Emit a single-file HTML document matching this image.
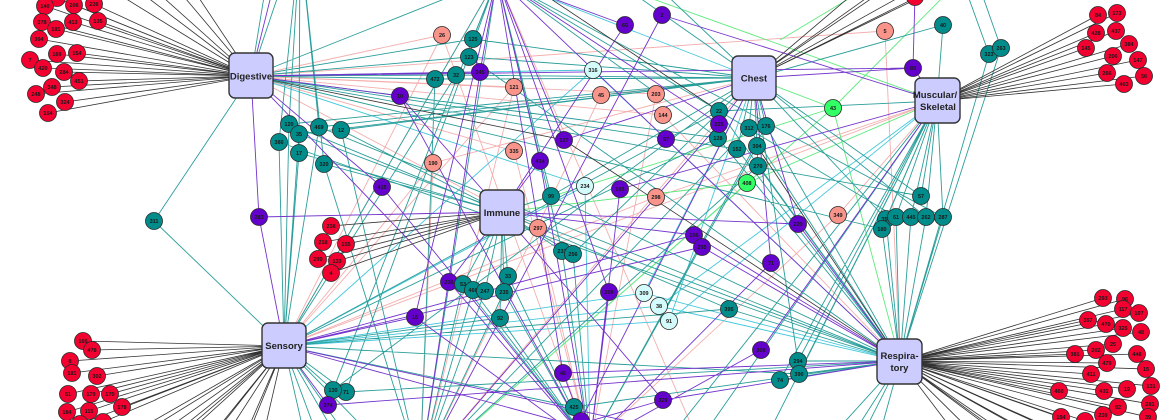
<!DOCTYPE html>
<html><head><meta charset="utf-8"><style>
html,body{margin:0;padding:0;background:#fff;width:1170px;height:420px;overflow:hidden;}
svg{display:block;overflow:hidden;}
.n text,.lb{font-family:"Liberation Sans",sans-serif;font-weight:bold;}
.n text{font-size:5.5px;fill:#1a1a1a;text-anchor:middle;}
.n circle{stroke:#2a2a2a;stroke-width:0.8;}
.r circle{fill:#f20030;}
.t circle{fill:#008c8a;}
.p circle{fill:#6400cc;}
.s circle{fill:#f8948a;}
.c circle{fill:#d4fbfb;}
.g circle{fill:#33ff66;}
.box{fill:#ccccff;stroke:#333;stroke-width:1.4;}
.lb{font-size:9.5px;fill:#222;text-anchor:middle;}
</style></head><body>
<svg width="1170" height="420" viewBox="0 0 1170 420" xmlns="http://www.w3.org/2000/svg">
<defs><clipPath id="cp"><rect width="1170" height="420"/></clipPath></defs>
<g clip-path="url(#cp)">
<rect width="1170" height="420" fill="#fff"/>
<g fill="none" stroke-width="0.9">
<path stroke="#f4aeae" d="M442 35L251 76M442 35L590 445M442 35L284 346M514 87L251 76M514 87L420 470M514 87L284 346M514 151L251 76M514 151L590 445M433 163L754 78M433 163L420 470M433 163L284 346M601 95L754 78M601 95L420 470M656 94L251 76M656 94L590 445M663 115L251 76M663 115L900 361M656 197L937 101M656 197L284 346M538 228L251 76M538 228L590 445M838 215L937 101M838 215L590 445M885 31L251 76M885 31L900 361M497 -22L284 346M497 -22L700 445M754 78L420 470M937 101L284 346"/>
<path stroke="#5eea7e" d="M833 108L754 78M833 108L900 361M833 108L502 212M833 108L420 470M833 108L960 -20M747 183L502 212M747 183L937 101M747 183L420 470M880 -20L780 40M937 101L600 -20"/>
<path stroke="#44c8dc" d="M593 70L251 76M593 70L900 361M593 70L284 346M585 186L251 76M585 186L590 445M585 186L284 346M644 293L284 346M644 293L754 78M644 293L900 361M659 306L284 346M659 306L937 101M659 306L900 361M669 321L284 346M669 321L937 101M669 321L754 78M497 -22L754 78"/>
<path stroke="#2a9e9a" d="M289 124L300 -60M289 124L284 346M289 124L754 78M289 124L502 212M299 134L300 -60M299 134L284 346M299 134L754 78M299 134L900 361M319 127L300 -60M319 127L754 78M319 127L284 346M319 127L900 361M341 130L754 78M341 130L420 470M341 130L502 212M279 142L284 346M279 142L900 361M279 142L300 -60M299 153L284 346M299 153L300 -60M299 153L502 212M324 164L420 470M324 164L502 212M324 164L300 -60M473 39L251 76M473 39L754 78M473 39L497 -22M469 57L251 76M469 57L754 78M469 57L900 361M435 79L251 76M435 79L420 470M435 79L754 78M456 75L251 76M456 75L754 78M456 75L284 346M154 221L251 76M154 221L284 346M719 111L497 -22M719 111L937 101M719 111L900 361M719 111L284 346M718 138L497 -22M718 138L900 361M718 138L284 346M718 138L251 76M749 128L754 78M749 128L900 361M749 128L420 470M766 126L754 78M766 126L900 361M766 126L590 445M737 149L754 78M737 149L900 361M737 149L251 76M757 146L754 78M757 146L590 445M758 166L754 78M758 166L900 361M758 166L420 470M551 196L502 212M551 196L497 -22M551 196L900 361M551 196L754 78M562 251L502 212M562 251L590 445M562 251L497 -22M573 254L502 212M573 254L590 445M573 254L754 78M463 284L502 212M463 284L590 445M463 284L420 470M473 290L502 212M473 290L420 470M473 290L590 445M485 291L502 212M485 291L420 470M508 276L502 212M508 276L590 445M504 292L502 212M504 292L420 470M504 292L590 445M500 318L502 212M500 318L590 445M500 318L284 346M729 309L284 346M729 309L900 361M729 309L502 212M921 196L937 101M921 196L754 78M921 196L251 76M886 219L900 361M886 219L937 101M886 219L754 78M896 217L900 361M896 217L937 101M896 217L497 -22M911 217L900 361M911 217L937 101M926 217L900 361M926 217L937 101M926 217L754 78M943 217L900 361M943 217L937 101M943 217L497 -22M882 229L900 361M882 229L937 101M882 229L251 76M989 54L955 -40M989 54L900 361M1001 48L970 -40M1001 48L900 361M943 25L937 101M943 25L754 78M798 361L900 361M798 361L754 78M798 361L937 101M799 374L900 361M799 374L937 101M799 374L284 346M780 380L900 361M780 380L937 101M574 407L590 445M574 407L284 346M574 407L900 361M333 390L284 346M333 390L497 -22M333 390L754 78M346 392L284 346M346 392L900 361M346 392L497 -22M284 346L310 460M284 346L330 470M284 346L350 460M284 346L370 470M284 346L400 465M900 361L850 460M900 361L830 470M900 361L810 460M900 361L870 470M497 -22L251 76M497 -22L284 346M497 -22L420 470M937 101L700 440M937 101L760 450M937 101L660 450M251 76L290 -40M251 76L270 -40M754 78L640 -30M754 78L600 -30"/>
<path stroke="#7433cc" d="M382 187L251 76M382 187L590 445M259 217L502 212M259 217L284 346M259 217L251 76M400 96L251 76M400 96L590 445M400 96L502 212M480 72L497 -22M480 72L420 470M480 72L251 76M625 25L502 212M625 25L497 -22M662 15L937 101M662 15L420 470M564 140L754 78M564 140L497 -22M540 161L497 -22M540 161L590 445M540 161L502 212M666 139L497 -22M666 139L900 361M620 189L937 101M620 189L590 445M719 124L497 -22M719 124L754 78M719 124L420 470M913 68L754 78M913 68L937 101M913 68L251 76M913 68L915 -5M798 224L502 212M798 224L900 361M798 224L754 78M694 235L284 346M694 235L502 212M694 235L900 361M702 247L284 346M702 247L900 361M771 263L754 78M771 263L590 445M449 282L502 212M449 282L590 445M449 282L251 76M415 317L284 346M415 317L497 -22M415 317L590 445M609 292L497 -22M609 292L590 445M563 373L900 361M563 373L497 -22M563 373L590 445M663 400L502 212M663 400L900 361M663 400L420 470M761 350L937 101M761 350L590 445M328 405L284 346M328 405L900 361M581 420L590 445M581 420L754 78M284 346L760 450M284 346L700 460M251 76L280 -40"/>
<path stroke="#333" stroke-width="0.8" d="M45 6L251 76M74 5L251 76M94 4L251 76M57 -2L251 76M42 22L251 76M73 22L251 76M98 21L251 76M56 29L251 76M39 39L251 76M57 54L251 76M77 53L251 76M30 60L251 76M43 68L251 76M64 72L251 76M79 81L251 76M52 87L251 76M36 94L251 76M65 102L251 76M48 113L251 76M115 -8L251 76M135 -12L251 76M155 -10L251 76M175 -14L251 76M195 -8L251 76M1098 15L937 101M1117 13L937 101M1096 33L937 101M1116 31L937 101M1086 48L937 101M1129 44L937 101M1113 56L937 101M1138 60L937 101M1107 73L937 101M1144 76L937 101M1124 84L937 101M860 -12L754 78M875 -8L754 78M890 -14L754 78M905 -6L754 78M915 -2L754 78M935 -10L754 78M331 226L502 212M323 242L502 212M346 244L502 212M318 259L502 212M337 261L502 212M331 273L502 212M83 341L284 346M92 350L284 346M70 361L284 346M72 373L284 346M97 376L284 346M68 394L284 346M91 394L284 346M110 394L284 346M122 407L284 346M67 412L284 346M89 411L284 346M103 422L284 346M80 424L284 346M120 440L284 346M140 435L284 346M160 445L284 346M180 440L284 346M200 450L284 346M220 445L284 346M240 455L284 346M260 450L284 346M150 460L284 346M190 465L284 346M230 470L284 346M130 455L284 346M1103 298L900 361M1125 299L900 361M1123 309L900 361M1139 313L900 361M1088 320L900 361M1106 324L900 361M1123 328L900 361M1141 332L900 361M1113 344L900 361M1096 350L900 361M1075 354L900 361M1137 354L900 361M1107 363L900 361M1146 369L900 361M1091 374L900 361M1059 391L900 361M1104 391L900 361M1127 389L900 361M1151 386L900 361M1118 407L900 361M1150 404L900 361M1061 417L900 361M1103 415L900 361M1148 417L900 361M1085 421L900 361M960 440L900 361M985 445L900 361M1010 440L900 361M1030 450L900 361M1050 445L900 361M1075 440L900 361M1100 450L900 361M1125 440L900 361M1000 460L900 361M1040 465L900 361M1080 460L900 361M1140 445L900 361M251 76L564 140M564 140L900 361M757 146L900 361M545 -5L719 111"/>
</g>
<g class="n r">
<circle cx="57" cy="-2" r="8.5"/>
<circle cx="45" cy="6" r="8.5"/><text x="45" y="8">140</text>
<circle cx="74" cy="5" r="8.5"/><text x="74" y="7">206</text>
<circle cx="94" cy="4" r="8.5"/><text x="94" y="6">226</text>
<circle cx="42" cy="22" r="8.5"/><text x="42" y="24">378</text>
<circle cx="73" cy="22" r="8.5"/><text x="73" y="24">413</text>
<circle cx="98" cy="21" r="8.5"/><text x="98" y="23">135</text>
<circle cx="56" cy="29" r="8.5"/><text x="56" y="31">181</text>
<circle cx="39" cy="39" r="8.5"/><text x="39" y="41">394</text>
<circle cx="57" cy="54" r="8.5"/><text x="57" y="56">169</text>
<circle cx="77" cy="53" r="8.5"/><text x="77" y="55">154</text>
<circle cx="30" cy="60" r="8.5"/><text x="30" y="62">7</text>
<circle cx="43" cy="68" r="8.5"/><text x="43" y="70">420</text>
<circle cx="64" cy="72" r="8.5"/><text x="64" y="74">284</text>
<circle cx="79" cy="81" r="8.5"/><text x="79" y="83">451</text>
<circle cx="52" cy="87" r="8.5"/><text x="52" y="89">348</text>
<circle cx="36" cy="94" r="8.5"/><text x="36" y="96">248</text>
<circle cx="65" cy="102" r="8.5"/><text x="65" y="104">324</text>
<circle cx="48" cy="113" r="8.5"/><text x="48" y="115">154</text>
<circle cx="915" cy="-3" r="8.5"/>
<circle cx="1098" cy="15" r="8.5"/><text x="1098" y="17">84</text>
<circle cx="1117" cy="13" r="8.5"/><text x="1117" y="15">173</text>
<circle cx="1096" cy="33" r="8.5"/><text x="1096" y="35">428</text>
<circle cx="1116" cy="31" r="8.5"/><text x="1116" y="33">437</text>
<circle cx="1086" cy="48" r="8.5"/><text x="1086" y="50">145</text>
<circle cx="1129" cy="44" r="8.5"/><text x="1129" y="46">384</text>
<circle cx="1113" cy="56" r="8.5"/><text x="1113" y="58">206</text>
<circle cx="1138" cy="60" r="8.5"/><text x="1138" y="62">147</text>
<circle cx="1107" cy="73" r="8.5"/><text x="1107" y="75">266</text>
<circle cx="1144" cy="76" r="8.5"/><text x="1144" y="78">56</text>
<circle cx="1124" cy="84" r="8.5"/><text x="1124" y="86">463</text>
<circle cx="331" cy="226" r="8.5"/><text x="331" y="228">238</text>
<circle cx="323" cy="242" r="8.5"/><text x="323" y="244">218</text>
<circle cx="346" cy="244" r="8.5"/><text x="346" y="246">155</text>
<circle cx="318" cy="259" r="8.5"/><text x="318" y="261">299</text>
<circle cx="337" cy="261" r="8.5"/><text x="337" y="263">133</text>
<circle cx="331" cy="273" r="8.5"/><text x="331" y="275">4</text>
<circle cx="83" cy="341" r="8.5"/><text x="83" y="343">105</text>
<circle cx="92" cy="350" r="8.5"/><text x="92" y="352">478</text>
<circle cx="70" cy="361" r="8.5"/><text x="70" y="363">8</text>
<circle cx="72" cy="373" r="8.5"/><text x="72" y="375">181</text>
<circle cx="97" cy="376" r="8.5"/><text x="97" y="378">302</text>
<circle cx="68" cy="394" r="8.5"/><text x="68" y="396">51</text>
<circle cx="91" cy="394" r="8.5"/><text x="91" y="396">179</text>
<circle cx="110" cy="394" r="8.5"/><text x="110" y="396">170</text>
<circle cx="122" cy="407" r="8.5"/><text x="122" y="409">178</text>
<circle cx="67" cy="412" r="8.5"/><text x="67" y="414">184</text>
<circle cx="89" cy="411" r="8.5"/><text x="89" y="413">115</text>
<circle cx="103" cy="422" r="8.5"/>
<circle cx="80" cy="424" r="8.5"/>
<circle cx="1103" cy="298" r="8.5"/><text x="1103" y="300">293</text>
<circle cx="1125" cy="299" r="8.5"/><text x="1125" y="301">96</text>
<circle cx="1123" cy="309" r="8.5"/><text x="1123" y="311">117</text>
<circle cx="1139" cy="313" r="8.5"/><text x="1139" y="315">107</text>
<circle cx="1088" cy="320" r="8.5"/><text x="1088" y="322">357</text>
<circle cx="1106" cy="324" r="8.5"/><text x="1106" y="326">470</text>
<circle cx="1123" cy="328" r="8.5"/><text x="1123" y="330">325</text>
<circle cx="1141" cy="332" r="8.5"/><text x="1141" y="334">48</text>
<circle cx="1113" cy="344" r="8.5"/><text x="1113" y="346">25</text>
<circle cx="1096" cy="350" r="8.5"/><text x="1096" y="352">202</text>
<circle cx="1075" cy="354" r="8.5"/><text x="1075" y="356">381</text>
<circle cx="1137" cy="354" r="8.5"/><text x="1137" y="356">448</text>
<circle cx="1107" cy="363" r="8.5"/><text x="1107" y="365">479</text>
<circle cx="1146" cy="369" r="8.5"/><text x="1146" y="371">15</text>
<circle cx="1091" cy="374" r="8.5"/><text x="1091" y="376">411</text>
<circle cx="1059" cy="391" r="8.5"/><text x="1059" y="393">460</text>
<circle cx="1104" cy="391" r="8.5"/><text x="1104" y="393">431</text>
<circle cx="1127" cy="389" r="8.5"/><text x="1127" y="391">19</text>
<circle cx="1151" cy="386" r="8.5"/><text x="1151" y="388">131</text>
<circle cx="1118" cy="407" r="8.5"/><text x="1118" y="409">82</text>
<circle cx="1150" cy="404" r="8.5"/><text x="1150" y="406">281</text>
<circle cx="1085" cy="421" r="8.5"/>
<circle cx="1061" cy="417" r="8.5"/><text x="1061" y="419">194</text>
<circle cx="1103" cy="415" r="8.5"/><text x="1103" y="417">239</text>
<circle cx="1148" cy="417" r="8.5"/><text x="1148" y="419">39</text>
</g>
<g class="n s">
<circle cx="442" cy="35" r="8.5"/><text x="442" y="37">26</text>
<circle cx="514" cy="87" r="8.5"/><text x="514" y="89">121</text>
<circle cx="514" cy="151" r="8.5"/><text x="514" y="153">335</text>
<circle cx="433" cy="163" r="8.5"/><text x="433" y="165">190</text>
<circle cx="601" cy="95" r="8.5"/><text x="601" y="97">45</text>
<circle cx="656" cy="94" r="8.5"/><text x="656" y="96">203</text>
<circle cx="663" cy="115" r="8.5"/><text x="663" y="117">144</text>
<circle cx="656" cy="197" r="8.5"/><text x="656" y="199">298</text>
<circle cx="538" cy="228" r="8.5"/><text x="538" y="230">297</text>
<circle cx="838" cy="215" r="8.5"/><text x="838" y="217">349</text>
<circle cx="885" cy="31" r="8.5"/><text x="885" y="33">5</text>
</g>
<g class="n c">
<circle cx="593" cy="70" r="8.5"/><text x="593" y="72">316</text>
<circle cx="585" cy="186" r="8.5"/><text x="585" y="188">234</text>
<circle cx="644" cy="293" r="8.5"/><text x="644" y="295">309</text>
<circle cx="659" cy="306" r="8.5"/><text x="659" y="308">38</text>
<circle cx="669" cy="321" r="8.5"/><text x="669" y="323">91</text>
</g>
<g class="n g">
<circle cx="833" cy="108" r="8.5"/><text x="833" y="110">43</text>
<circle cx="747" cy="183" r="8.5"/><text x="747" y="185">408</text>
</g>
<g class="n t">
<circle cx="289" cy="124" r="8.5"/><text x="289" y="126">120</text>
<circle cx="279" cy="142" r="8.5"/><text x="279" y="144">386</text>
<circle cx="299" cy="134" r="8.5"/><text x="299" y="136">35</text>
<circle cx="299" cy="153" r="8.5"/><text x="299" y="155">17</text>
<circle cx="319" cy="127" r="8.5"/><text x="319" y="129">469</text>
<circle cx="341" cy="130" r="8.5"/><text x="341" y="132">12</text>
<circle cx="324" cy="164" r="8.5"/><text x="324" y="166">320</text>
<circle cx="473" cy="39" r="8.5"/><text x="473" y="41">125</text>
<circle cx="469" cy="57" r="8.5"/><text x="469" y="59">123</text>
<circle cx="435" cy="79" r="8.5"/><text x="435" y="81">472</text>
<circle cx="456" cy="75" r="8.5"/><text x="456" y="77">32</text>
<circle cx="154" cy="221" r="8.5"/><text x="154" y="223">311</text>
<circle cx="719" cy="111" r="8.5"/><text x="719" y="113">22</text>
<circle cx="718" cy="138" r="8.5"/><text x="718" y="140">128</text>
<circle cx="749" cy="128" r="8.5"/><text x="749" y="130">312</text>
<circle cx="766" cy="126" r="8.5"/><text x="766" y="128">176</text>
<circle cx="737" cy="149" r="8.5"/><text x="737" y="151">152</text>
<circle cx="757" cy="146" r="8.5"/><text x="757" y="148">304</text>
<circle cx="758" cy="166" r="8.5"/><text x="758" y="168">270</text>
<circle cx="551" cy="196" r="8.5"/><text x="551" y="198">99</text>
<circle cx="562" cy="251" r="8.5"/><text x="562" y="253">231</text>
<circle cx="573" cy="254" r="8.5"/><text x="573" y="256">256</text>
<circle cx="508" cy="276" r="8.5"/><text x="508" y="278">33</text>
<circle cx="504" cy="292" r="8.5"/><text x="504" y="294">235</text>
<circle cx="500" cy="318" r="8.5"/><text x="500" y="320">92</text>
<circle cx="729" cy="309" r="8.5"/><text x="729" y="311">395</text>
<circle cx="921" cy="196" r="8.5"/><text x="921" y="198">57</text>
<circle cx="886" cy="219" r="8.5"/><text x="886" y="221">352</text>
<circle cx="896" cy="217" r="8.5"/><text x="896" y="219">61</text>
<circle cx="911" cy="217" r="8.5"/><text x="911" y="219">445</text>
<circle cx="926" cy="217" r="8.5"/><text x="926" y="219">262</text>
<circle cx="943" cy="217" r="8.5"/><text x="943" y="219">287</text>
<circle cx="882" cy="229" r="8.5"/><text x="882" y="231">180</text>
<circle cx="989" cy="54" r="8.5"/><text x="989" y="56">323</text>
<circle cx="1001" cy="48" r="8.5"/><text x="1001" y="50">263</text>
<circle cx="943" cy="25" r="8.5"/><text x="943" y="27">40</text>
<circle cx="798" cy="361" r="8.5"/><text x="798" y="363">294</text>
<circle cx="799" cy="374" r="8.5"/><text x="799" y="376">390</text>
<circle cx="780" cy="380" r="8.5"/><text x="780" y="382">74</text>
<circle cx="574" cy="407" r="8.5"/><text x="574" y="409">425</text>
<circle cx="346" cy="392" r="8.5"/><text x="346" y="394">71</text>
<circle cx="333" cy="390" r="8.5"/><text x="333" y="392">130</text>
</g>
<g class="n p">
<circle cx="449" cy="282" r="8.5"/><text x="449" y="284">236</text>
</g>
<g class="n t">
<circle cx="463" cy="284" r="8.5"/><text x="463" y="286">53</text>
<circle cx="473" cy="290" r="8.5"/><text x="473" y="292">466</text>
<circle cx="485" cy="291" r="8.5"/><text x="485" y="293">247</text>
</g>
<g class="n p">
<circle cx="382" cy="187" r="8.5"/><text x="382" y="189">415</text>
<circle cx="259" cy="217" r="8.5"/><text x="259" y="219">283</text>
<circle cx="400" cy="96" r="8.5"/><text x="400" y="98">10</text>
<circle cx="480" cy="72" r="8.5"/><text x="480" y="74">345</text>
<circle cx="625" cy="25" r="8.5"/><text x="625" y="27">69</text>
<circle cx="662" cy="15" r="8.5"/><text x="662" y="17">2</text>
<circle cx="564" cy="140" r="8.5"/><text x="564" y="142">127</text>
<circle cx="540" cy="161" r="8.5"/><text x="540" y="163">414</text>
<circle cx="666" cy="139" r="8.5"/><text x="666" y="141">97</text>
<circle cx="620" cy="189" r="8.5"/><text x="620" y="191">165</text>
<circle cx="719" cy="124" r="8.5"/><text x="719" y="126">225</text>
<circle cx="913" cy="68" r="8.5"/><text x="913" y="70">89</text>
<circle cx="798" cy="224" r="8.5"/><text x="798" y="226">220</text>
<circle cx="694" cy="235" r="8.5"/><text x="694" y="237">156</text>
<circle cx="702" cy="247" r="8.5"/><text x="702" y="249">295</text>
<circle cx="771" cy="263" r="8.5"/><text x="771" y="265">71</text>
<circle cx="415" cy="317" r="8.5"/><text x="415" y="319">16</text>
<circle cx="609" cy="292" r="8.5"/><text x="609" y="294">209</text>
<circle cx="563" cy="373" r="8.5"/><text x="563" y="375">46</text>
<circle cx="663" cy="400" r="8.5"/><text x="663" y="402">329</text>
<circle cx="761" cy="350" r="8.5"/><text x="761" y="352">308</text>
<circle cx="328" cy="405" r="8.5"/><text x="328" y="407">374</text>
<circle cx="581" cy="421" r="8.5"/>
</g>
<g>
<rect class="box" x="229" y="53" width="44" height="45" rx="6"/>
<text class="lb" x="251" y="79.5">Digestive</text>
<rect class="box" x="732" y="56" width="44" height="44" rx="6"/>
<text class="lb" x="754" y="81.5">Chest</text>
<rect class="box" x="915" y="78" width="45" height="45" rx="6"/>
<text class="lb" x="935" y="98">Muscular/</text>
<text class="lb" x="938" y="110">Skeletal</text>
<rect class="box" x="480" y="190" width="44" height="45" rx="6"/>
<text class="lb" x="502" y="216">Immune</text>
<rect class="box" x="262" y="323" width="44" height="45" rx="6"/>
<text class="lb" x="284" y="349">Sensory</text>
<rect class="box" x="877" y="339" width="45" height="45" rx="6"/>
<text class="lb" x="899.5" y="359">Respira-</text>
<text class="lb" x="899.5" y="371">tory</text>
</g>
</g>
</svg>
</body></html>
